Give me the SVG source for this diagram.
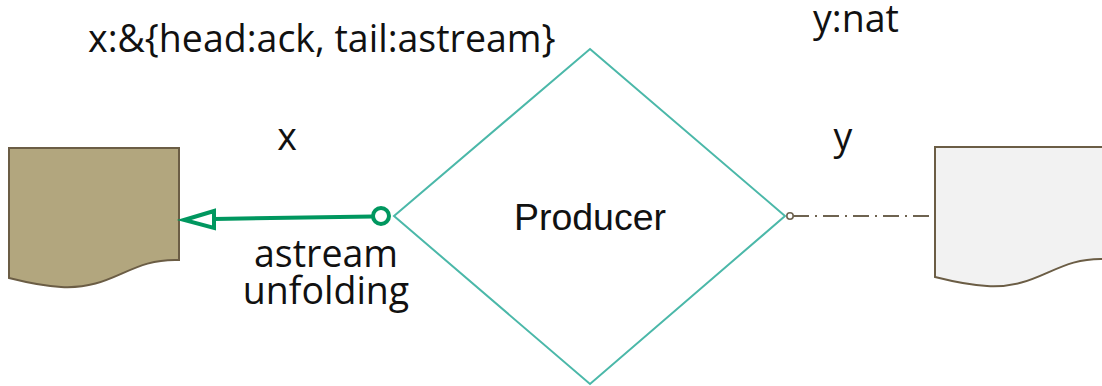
<svg xmlns="http://www.w3.org/2000/svg" width="1102" height="386" viewBox="0 0 1102 386">
  <style>
    .lbl { font-family: "Open Sans", "Liberation Sans", sans-serif; font-size: 37.5px; fill: #111; }
    .name { font-family: "Liberation Sans", Arial, sans-serif; font-size: 37.5px; fill: #111; }
    .doc { stroke: #6b5d45; stroke-width: 2; }
  </style>
  <defs>
    <path id="docShape" d="M0,0 H170 V112 C120,110 105,142 52,139 C32,138 16,134 0,130 Z"/>
  </defs>

  <rect width="1102" height="386" fill="#ffffff"/>

  <g id="channel-x">
    <use href="#docShape" x="9" y="148" class="doc" fill="#b2a67e"/>
  </g>

  <g id="channel-y">
    <use href="#docShape" x="935" y="147" class="doc" fill="#f2f2f2"/>
  </g>

  <g id="producer">
    <polygon points="590,49 785,216 590,384 394,216" fill="#ffffff" stroke="#4bb8a9" stroke-width="2"/>
    <text class="name" x="590" y="230" text-anchor="middle">Producer</text>
  </g>

  <g id="connectors">
    <!-- x: provided stream, open arrowhead on the channel -->
    <line x1="373" y1="216.5" x2="214" y2="219" stroke="#00975f" stroke-width="4"/>
    <polygon points="184,220 214,211 214,228" fill="#ffffff" stroke="#00975f" stroke-width="4" stroke-linejoin="miter"/>
    <circle cx="381" cy="216" r="8" fill="#ffffff" stroke="#00975f" stroke-width="4"/>
    <!-- y: used channel, dash-dot -->
    <line x1="793" y1="216" x2="931" y2="216" stroke="#6e6350" stroke-width="2" stroke-dasharray="16 6 2 6"/>
    <circle cx="790" cy="216" r="3.2" fill="#ffffff" stroke="#6e6350" stroke-width="1.6"/>
  </g>

  <g id="labels">
    <text class="lbl" x="88" y="52">x:&amp;{head:ack, tail:astream}</text>
    <text class="lbl" x="813" y="32">y:nat</text>
    <text class="lbl" x="287" y="150" text-anchor="middle">x</text>
    <text class="lbl" x="843" y="150" text-anchor="middle">y</text>
    <text class="lbl" x="326" y="267" text-anchor="middle">astream</text>
    <text class="lbl" x="326" y="304" text-anchor="middle">unfolding</text>
  </g>
</svg>
